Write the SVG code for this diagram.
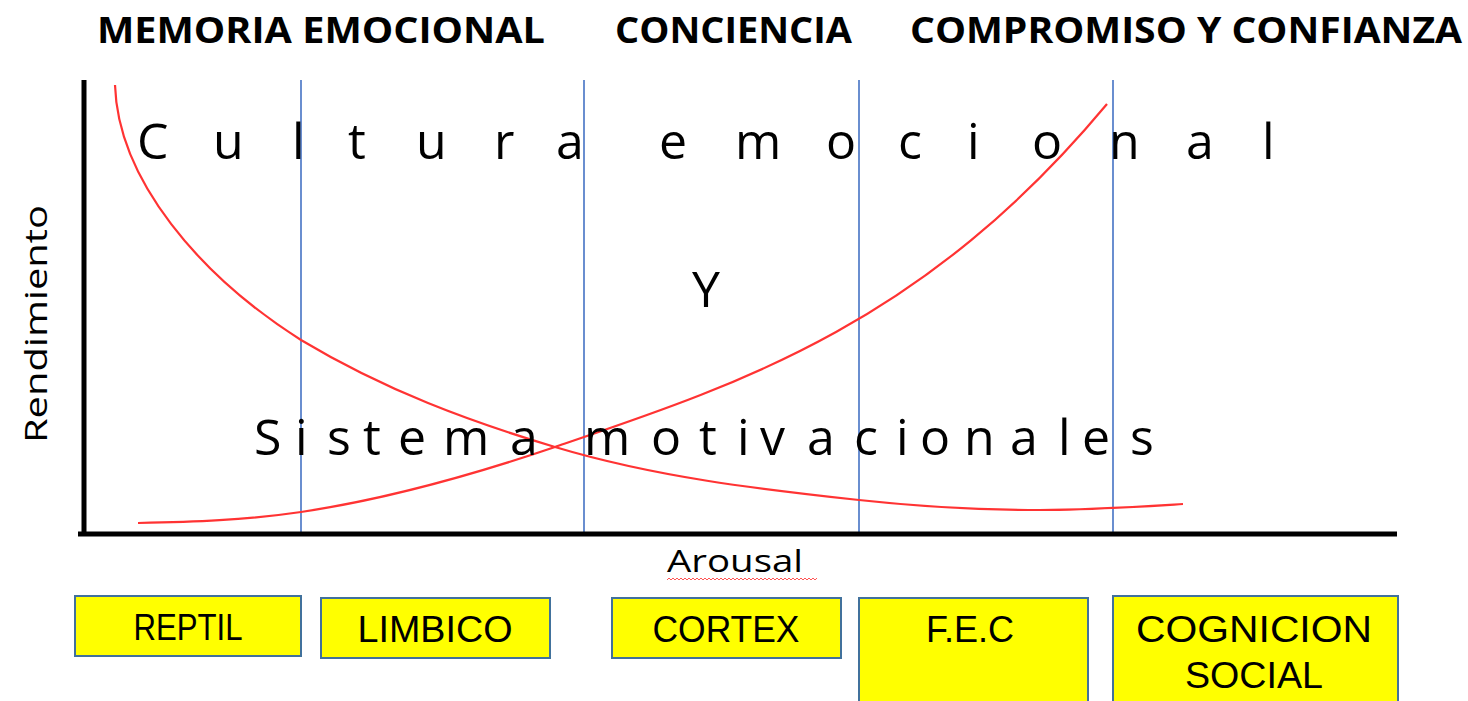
<svg xmlns="http://www.w3.org/2000/svg" width="1468" height="701" viewBox="0 0 1468 701">
<style>
.title{font-family:"Open Sans","Liberation Sans",sans-serif;font-weight:bold;font-size:35px;fill:#000}
.big{font-family:"Open Sans","Liberation Sans",sans-serif;font-size:50px;fill:#000}
.axl{font-family:"Open Sans","Liberation Sans",sans-serif;font-size:31px;fill:#000}
.box rect{fill:#FFFF00;stroke:#41719C;stroke-width:2}
.box text{font-family:"Liberation Sans","DejaVu Sans",sans-serif;font-size:36px;fill:#000;text-anchor:middle}
.band{stroke:#4472C4;stroke-width:1.6}
.curve{fill:none;stroke:#FF3333;stroke-width:2.2}
.axis{stroke:#000;stroke-width:5}
</style>
<rect width="1468" height="701" fill="#fff"/>
<g id="titles">
<text class="title" x="97" y="43" textLength="448" lengthAdjust="spacingAndGlyphs">MEMORIA EMOCIONAL</text>
<text class="title" x="615" y="43" textLength="237" lengthAdjust="spacingAndGlyphs">CONCIENCIA</text>
<text class="title" x="910" y="43" textLength="552" lengthAdjust="spacingAndGlyphs">COMPROMISO Y CONFIANZA</text>
</g>
<g id="bands">
<line class="band" x1="301" y1="80" x2="301" y2="532"/>
<line class="band" x1="584" y1="80" x2="584" y2="532"/>
<line class="band" x1="859" y1="80" x2="859" y2="532"/>
<line class="band" x1="1113" y1="80" x2="1113" y2="532"/>
</g>
<g id="axes">
<line class="axis" x1="84" y1="80" x2="84" y2="536"/>
<line class="axis" x1="78" y1="534" x2="1397" y2="534"/>
<text class="axl" transform="translate(47,443) rotate(-90)" textLength="238" lengthAdjust="spacingAndGlyphs">Rendimiento</text>
<text class="axl" x="667" y="572" textLength="136" lengthAdjust="spacingAndGlyphs">Arousal</text>
<path d="M667,580 l2,-2 l2,2 l2,-2 l2,2 l2,-2 l2,2 l2,-2 l2,2 l2,-2 l2,2 l2,-2 l2,2 l2,-2 l2,2 l2,-2 l2,2 l2,-2 l2,2 l2,-2 l2,2 l2,-2 l2,2 l2,-2 l2,2 l2,-2 l2,2 l2,-2 l2,2 l2,-2 l2,2 l2,-2 l2,2 l2,-2 l2,2 l2,-2 l2,2 l2,-2 l2,2 l2,-2 l2,2 l2,-2 l2,2 l2,-2 l2,2 l2,-2 l2,2 l2,-2 l2,2 l2,-2 l2,2 l2,-2 l2,2 l2,-2 l2,2 l2,-2 l2,2 l2,-2 l2,2 l2,-2 l2,2 l2,-2 l2,2 l2,-2 l2,2 l2,-2 l2,2 l2,-2 l2,2 l2,-2 l2,2 l2,-2 l2,2 l2,-2 l2,2 l2,-2" fill="none" stroke="#FF5555" stroke-width="1"/>
</g>
<g id="curves">
<path class="curve" d="M115,85 C118,180 200,276 301,340 C385.7,390.8 470.3,421.6 555,447 C656.3,477.4 757.7,488.9 859,500 C919.3,506.6 979.7,510 1040,510 C1087.7,510 1135.3,506.9 1183,504"/>
<path class="curve" d="M138,523 C192.3,521.9 246.7,520.1 301,512 C385.7,499.3 470.3,475.8 555,447 C739,384.4 923,324.8 1107,104"/>
</g>
<g id="labels">
<text class="big" y="159" x="137 213 292 348 416 494 556 659 735 826 898 967 1032 1109 1186 1262">Culturaemocional</text>
<text class="big" x="706" y="307" text-anchor="middle">Y</text>
<text class="big" y="455" x="254 295 327 363 398 443 510 584 651 699 737 760 807 854 896 920 964 1010 1058 1082 1130">Sistemamotivacionales</text>
</g>
<g id="node-reptil" class="box">
<rect x="75" y="596" width="226" height="60"/>
<text x="188" y="640" textLength="109" lengthAdjust="spacingAndGlyphs">REPTIL</text>
</g>
<g id="node-limbico" class="box">
<rect x="321" y="598" width="229" height="60"/>
<text x="435" y="642" textLength="155" lengthAdjust="spacingAndGlyphs">LIMBICO</text>
</g>
<g id="node-cortex" class="box">
<rect x="612" y="598" width="229" height="60"/>
<text x="726" y="642" textLength="147" lengthAdjust="spacingAndGlyphs">CORTEX</text>
</g>
<g id="node-fec" class="box">
<rect x="859" y="598" width="229" height="106"/>
<text x="970" y="642" textLength="88" lengthAdjust="spacingAndGlyphs">F.E.C</text>
</g>
<g id="node-cognicion" class="box">
<rect x="1113" y="596" width="285" height="108"/>
<text x="1254" y="642" textLength="236" lengthAdjust="spacingAndGlyphs">COGNICION</text>
<text x="1254" y="688" textLength="138" lengthAdjust="spacingAndGlyphs">SOCIAL</text>
</g>
</svg>
